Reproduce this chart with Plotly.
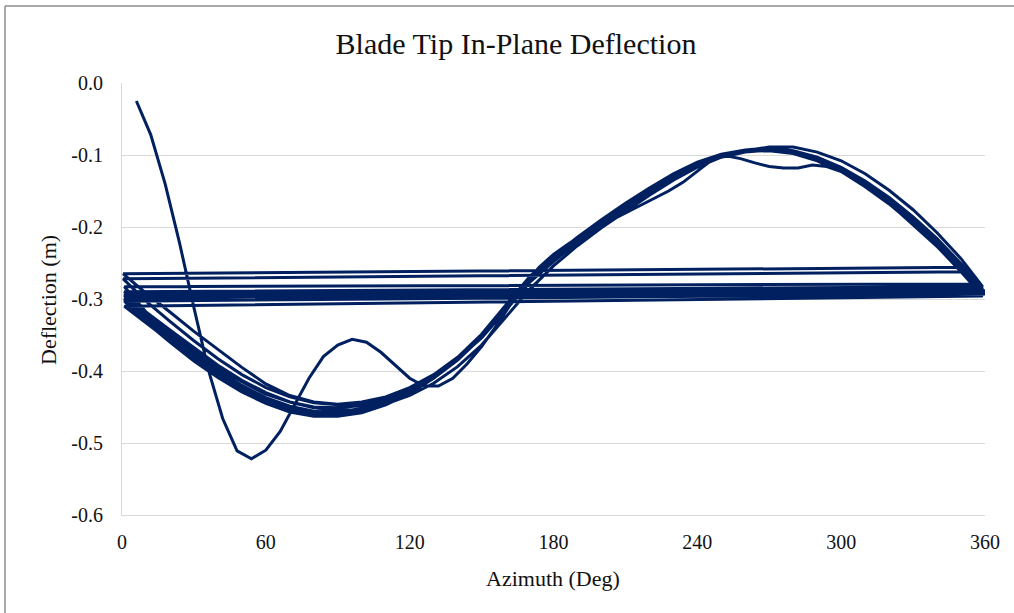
import plotly.graph_objects as go

# ---------------- data ----------------
# First (transient) revolution
REV1_AZ = [6, 12, 18, 24, 30, 36, 42, 48, 54, 60, 66, 72, 78, 84, 90, 96, 102, 108,
           114, 120, 126, 132, 138, 144, 150, 156, 162, 168, 174, 180, 186, 192, 198,
           204, 210, 216, 222, 228, 234, 240, 246, 252, 258, 264, 270, 276, 282, 288,
           294, 300, 306, 312, 318, 324, 330, 336, 342, 348, 352]
REV1_DEF = [-0.025, -0.072, -0.140, -0.222, -0.312, -0.398, -0.466, -0.511, -0.522,
            -0.510, -0.484, -0.448, -0.410, -0.380, -0.364, -0.356, -0.360, -0.374,
            -0.392, -0.410, -0.421, -0.421, -0.410, -0.390, -0.366, -0.338, -0.308,
            -0.280, -0.256, -0.238, -0.224, -0.211, -0.201, -0.191, -0.181, -0.170,
            -0.160, -0.150, -0.138, -0.122, -0.107, -0.101, -0.105, -0.111, -0.116,
            -0.118, -0.118, -0.114, -0.116, -0.123, -0.134, -0.147, -0.162, -0.179,
            -0.197, -0.215, -0.233, -0.248, -0.256]

# Later revolutions share an interior azimuth grid
AZ_GRID = [10, 20, 30, 40, 50, 60, 70, 80, 90, 100, 110, 120, 130, 140, 150, 160, 170,
           180, 190, 200, 210, 220, 230, 240, 250, 260, 270, 280, 290, 300, 310, 320,
           330, 340, 350]
REV_START_AZ = [0.5, 0.5, 1, 1, 1, 1, 1, 1, 1, 1]
REV_START_DEF = [-0.265, -0.272, -0.283, -0.290, -0.293, -0.295, -0.299, -0.301, -0.303, -0.310]
REV_END_AZ = [353, 358, 359, 359, 359, 360, 360, 360, 359, 358]
REV_END_DEF = [-0.262, -0.279, -0.283, -0.285, -0.287, -0.290, -0.291, -0.293, -0.296, -0.283]

REV2_DEF = [-0.292, -0.318, -0.345, -0.370, -0.395, -0.418, -0.434, -0.443, -0.446, -0.443,
            -0.436, -0.424, -0.406, -0.383, -0.354, -0.316, -0.277, -0.248, -0.221, -0.197,
            -0.174, -0.152, -0.132, -0.115, -0.103, -0.096, -0.093, -0.095, -0.103, -0.117,
            -0.136, -0.159, -0.186, -0.216, -0.251]
REV3_DEF = [-0.303, -0.331, -0.358, -0.383, -0.405, -0.423, -0.436, -0.444, -0.447, -0.444,
            -0.436, -0.423, -0.405, -0.381, -0.351, -0.312, -0.273, -0.244, -0.218, -0.194,
            -0.171, -0.149, -0.129, -0.113, -0.101, -0.095, -0.092, -0.096, -0.105, -0.120,
            -0.140, -0.164, -0.191, -0.221, -0.254]
REV4_DEF = [-0.318, -0.343, -0.368, -0.392, -0.413, -0.430, -0.443, -0.451, -0.455, -0.453,
            -0.446, -0.434, -0.417, -0.394, -0.364, -0.326, -0.287, -0.254, -0.226, -0.201,
            -0.178, -0.156, -0.135, -0.117, -0.103, -0.094, -0.089, -0.089, -0.096, -0.108,
            -0.126, -0.149, -0.176, -0.208, -0.244]
REV5_DEF = [-0.324, -0.350, -0.376, -0.399, -0.420, -0.437, -0.449, -0.456, -0.458, -0.454,
            -0.445, -0.430, -0.410, -0.385, -0.353, -0.312, -0.271, -0.242, -0.216, -0.192,
            -0.169, -0.147, -0.127, -0.111, -0.100, -0.094, -0.092, -0.096, -0.105, -0.120,
            -0.140, -0.165, -0.193, -0.224, -0.258]
REV6_DEF = [-0.321, -0.347, -0.372, -0.395, -0.415, -0.432, -0.443, -0.450, -0.451, -0.448,
            -0.440, -0.426, -0.407, -0.382, -0.351, -0.311, -0.270, -0.241, -0.215, -0.191,
            -0.168, -0.146, -0.126, -0.110, -0.099, -0.093, -0.090, -0.094, -0.103, -0.118,
            -0.138, -0.162, -0.190, -0.221, -0.256]
REV7_DEF = [-0.327, -0.353, -0.379, -0.402, -0.422, -0.439, -0.450, -0.457, -0.458, -0.453,
            -0.443, -0.428, -0.408, -0.382, -0.350, -0.310, -0.270, -0.241, -0.215, -0.191,
            -0.168, -0.146, -0.126, -0.110, -0.099, -0.093, -0.091, -0.095, -0.104, -0.119,
            -0.139, -0.163, -0.191, -0.222, -0.257]
REV8_DEF = [-0.330, -0.357, -0.383, -0.406, -0.427, -0.444, -0.456, -0.462, -0.462, -0.456,
            -0.445, -0.429, -0.408, -0.382, -0.349, -0.309, -0.269, -0.240, -0.214, -0.190,
            -0.167, -0.146, -0.126, -0.110, -0.099, -0.093, -0.092, -0.096, -0.105, -0.120,
            -0.140, -0.164, -0.192, -0.223, -0.258]
REV9_DEF = [-0.329, -0.356, -0.381, -0.404, -0.424, -0.440, -0.451, -0.457, -0.457, -0.452,
            -0.442, -0.427, -0.407, -0.381, -0.349, -0.309, -0.269, -0.240, -0.214, -0.190,
            -0.168, -0.146, -0.127, -0.111, -0.100, -0.094, -0.093, -0.097, -0.106, -0.121,
            -0.141, -0.165, -0.193, -0.224, -0.259]
REV10_DEF = [-0.332, -0.360, -0.386, -0.409, -0.429, -0.445, -0.457, -0.463, -0.463, -0.458,
             -0.447, -0.431, -0.410, -0.384, -0.351, -0.311, -0.271, -0.242, -0.216, -0.192,
             -0.169, -0.147, -0.128, -0.112, -0.101, -0.095, -0.094, -0.098, -0.108, -0.123,
             -0.144, -0.168, -0.196, -0.227, -0.262]
REV11_DEF = [-0.333, -0.359, -0.384, -0.406, -0.425, -0.441, -0.452, -0.458, -0.458, -0.453,
             -0.443, -0.428, -0.408, -0.382, -0.350, -0.310, -0.270, -0.241, -0.215, -0.191,
             -0.169, -0.147, -0.127, -0.111, -0.100, -0.094, -0.092, -0.096, -0.105, -0.120,
             -0.140, -0.164, -0.192, -0.223, -0.257]

X_TICKS = [0, 60, 120, 180, 240, 300, 360]
Y_TICKS = [0.0, -0.1, -0.2, -0.3, -0.4, -0.5, -0.6]
Y_TICK_TEXT = ["0.0", "-0.1", "-0.2", "-0.3", "-0.4", "-0.5", "-0.6"]

# ---------------- assemble the continuous trace ----------------
xs = list(REV1_AZ)
ys = list(REV1_DEF)
steady = [REV2_DEF, REV3_DEF, REV4_DEF, REV5_DEF, REV6_DEF, REV7_DEF, REV8_DEF,
          REV9_DEF, REV10_DEF, REV11_DEF]
for i, rev in enumerate(steady):
    xs += [REV_START_AZ[i]] + AZ_GRID + [REV_END_AZ[i]]
    ys += [REV_START_DEF[i]] + rev + [REV_END_DEF[i]]

FONT = "Liberation Serif, Times New Roman, serif"
W, H = 1014, 613
L, R, T, B = 122, 29, 83, 98
PW, PH = W - L - R, H - T - B


def px(xp):
    return (xp - L) / PW


def py(yp):
    return (H - B - yp) / PH


fig = go.Figure()
fig.add_trace(go.Scatter(x=xs, y=ys, mode="lines",
                         line=dict(color="#002060", width=3),
                         hoverinfo="skip", showlegend=False))

fig.update_layout(
    width=W, height=H,
    margin=dict(l=L, r=R, t=T, b=B),
    paper_bgcolor="white", plot_bgcolor="white",
    font=dict(family=FONT, color="#111111", size=20),
    title=dict(text="Blade Tip In-Plane Deflection", x=516 / W, xanchor="center",
               y=1 - 43 / H, yanchor="middle", xref="container", yref="container",
               font=dict(family=FONT, size=30, color="#111111")),
    showlegend=False,
)
fig.update_xaxes(range=[0, 360], tickvals=X_TICKS, ticktext=[str(v) for v in X_TICKS],
                 showgrid=False, zeroline=False, showline=True, linecolor="#d9d9d9",
                 linewidth=1, ticks="outside", ticklen=9, tickcolor="rgba(0,0,0,0)",
                 tickfont=dict(family=FONT, size=20, color="#111111"))
fig.update_yaxes(range=[-0.6, 0.0], tickvals=Y_TICKS, ticktext=Y_TICK_TEXT,
                 showgrid=True, gridcolor="#d9d9d9", gridwidth=1, zeroline=False,
                 showline=True, linecolor="#d9d9d9", linewidth=1,
                 ticks="outside", ticklen=14, tickcolor="rgba(0,0,0,0)",
                 tickfont=dict(family=FONT, size=20, color="#111111"))

fig.add_annotation(text="Azimuth (Deg)", xref="paper", yref="paper",
                   x=px(553), y=py(578), xanchor="center", yanchor="middle",
                   showarrow=False, font=dict(family=FONT, size=22, color="#111111"))
fig.add_annotation(text="Deflection (m)", xref="paper", yref="paper",
                   x=px(48), y=py(300), xanchor="center", yanchor="middle", textangle=-90,
                   showarrow=False, font=dict(family=FONT, size=22, color="#111111"))

# outer chart border (left and top edges visible)
fig.add_shape(type="line", xref="paper", yref="paper", x0=px(5), x1=px(5), y0=py(6), y1=py(613),
              line=dict(color="#8c8c8c", width=1.5))
fig.add_shape(type="line", xref="paper", yref="paper", x0=px(5), x1=px(1014), y0=py(6), y1=py(6),
              line=dict(color="#8c8c8c", width=1.5))

fig.write_html("out.html", config={"displayModeBar": False},
               post_script=("document.body.style.margin='0';"
                            "document.body.style.overflow='hidden';"
                            "document.documentElement.style.overflow='hidden';"))
